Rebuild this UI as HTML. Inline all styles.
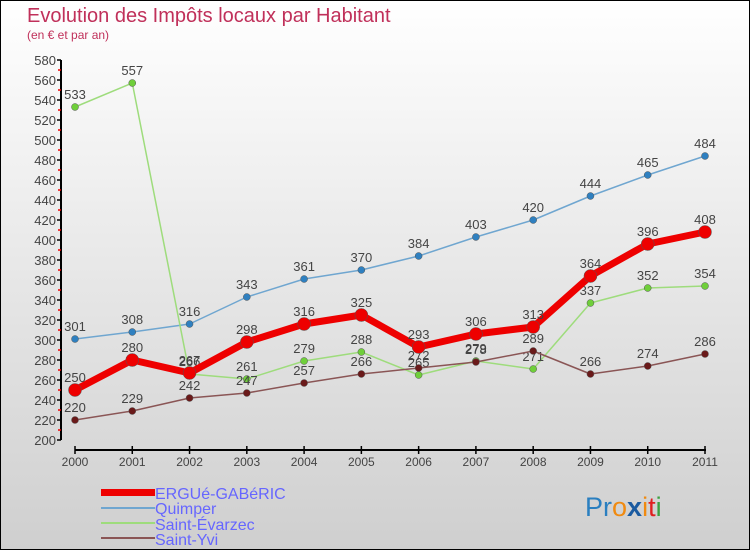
<!DOCTYPE html>
<html><head><meta charset="utf-8"><style>
body{margin:0}
#c{width:750px;height:550px;position:relative;overflow:hidden}
text{font-family:"Liberation Sans","DejaVu Sans",sans-serif}
</style></head><body>
<div id="c">
<svg id="s" width="750" height="550" xmlns="http://www.w3.org/2000/svg">
<defs><linearGradient id="bg" x1="0" y1="0" x2="0" y2="1"><stop offset="0" stop-color="#ffffff"/><stop offset="1" stop-color="#cfcfcf"/></linearGradient></defs>
<rect x="0.5" y="0.5" width="749" height="549" fill="url(#bg)" stroke="#000"/>
<text x="27" y="22" font-size="20" fill="#c0305a">Evolution des Impôts locaux par Habitant</text>
<text x="27" y="39" font-size="12" fill="#c0305a">(en € et par an)</text>
<g id="axes"></g><g id="series"></g>
<g font-size="16" fill="#6666ff">
<rect x="101" y="489" width="54" height="7" fill="#ee0000"/>
<text x="155" y="499" fill="#6666ff">ERGUé-GABéRIC</text>
<rect x="101" y="507" width="54" height="2" fill="#6fa6d0"/>
<text x="155" y="514" fill="#6666ff">Quimper</text>
<rect x="101" y="522" width="54" height="2" fill="#9edc7c"/>
<text x="155" y="530" fill="#6666ff">Saint-Évarzec</text>
<rect x="101" y="537" width="54" height="2" fill="#8a5555"/>
<text x="155" y="545" fill="#6666ff">Saint-Yvi</text>
</g>
<g font-size="27">
<text x="585" y="516"><tspan fill="#2a7fc0">Pr</tspan><tspan fill="#f08a10">o</tspan><tspan fill="#1a5aa0" font-weight="bold">x</tspan><tspan fill="#f08a10">i</tspan><tspan fill="#e02020">t</tspan><tspan fill="#3aa040">i</tspan></text>
</g>
</svg></div>
<script>
const years=["2000","2001","2002","2003","2004","2005","2006","2007","2008","2009","2010","2011"];
const ergue=[250,280,267,298,316,325,293,306,313,364,396,408];
const quimper=[301,308,316,343,361,370,384,403,420,444,465,484];
const evarzec=[533,557,266,261,279,288,265,279,271,337,352,354];
const yvi=[220,229,242,247,257,266,272,278,289,266,274,286];
const yTicks=[200,220,240,260,280,300,320,340,360,380,400,420,440,460,480,500,520,540,560,580];
const NS="http://www.w3.org/2000/svg";
const X=i=>75+i*(705-75)/11;
const Y=v=>440-(v-200);
function mk(tag,attrs,parent){const e=document.createElementNS(NS,tag);for(const k in attrs)e.setAttribute(k,attrs[k]);parent.appendChild(e);return e;}
const ax=document.getElementById('axes');
let l=mk('line',{x1:61,y1:Y(200),x2:61,y2:Y(580),stroke:'#000','stroke-width':2},ax);


yTicks.forEach(v=>{
 mk('line',{x1:57,x2:61,y1:Y(v),y2:Y(v),stroke:'#000','stroke-width':1.5},ax);
 if(v<580) mk('line',{x1:58,x2:61,y1:Y(v+10),y2:Y(v+10),stroke:'#e00','stroke-width':1.5},ax);
 const t=mk('text',{x:56,y:Y(v)+5,'text-anchor':'end','font-size':13,fill:'#444'},ax);
 t.textContent=v;
 
 
});
l=mk('line',{x1:75,y1:450,x2:706,y2:450,stroke:'#000','stroke-width':2},ax);


years.forEach((y,i)=>{
 mk('line',{x1:X(i),x2:X(i),y1:446,y2:454,stroke:'#000','stroke-width':1.5},ax);
 const t=mk('text',{x:X(i),y:466,'text-anchor':'middle','font-size':12,fill:'#444'},ax);
 t.textContent=y;
 
 
});
const sg=document.getElementById('series');
function series(vals,name,color,w,r,dot){
 const g=mk('g',{},sg);
 
 
 const p=mk('polyline',{points:vals.map((v,i)=>X(i)+','+Y(v)).join(' '),fill:'none',stroke:color,'stroke-width':w,'stroke-linejoin':'round'},g);
 
 
 vals.forEach((v,i)=>{
  const c=mk('circle',{cx:X(i),cy:Y(v),r:r,fill:dot,stroke:'#555','stroke-width':0.5},g);
  
  
  const t=mk('text',{x:X(i),y:Y(v)-8,'text-anchor':'middle','font-size':13,fill:'#444'},g);
  t.textContent=v;
  
  
 });
}
series(quimper,'quimper','#6fa6d0',1.5,3.5,'#2f80c0');
series(evarzec,'evarzec','#9edc7c',1.5,3.5,'#6fcf3a');
series(yvi,'yvi','#8a5555',1.5,3.5,'#6a1a1a');
series(ergue,'ergue','#ee0000',7,6.5,'#ee0000');
</script>
</body></html>
